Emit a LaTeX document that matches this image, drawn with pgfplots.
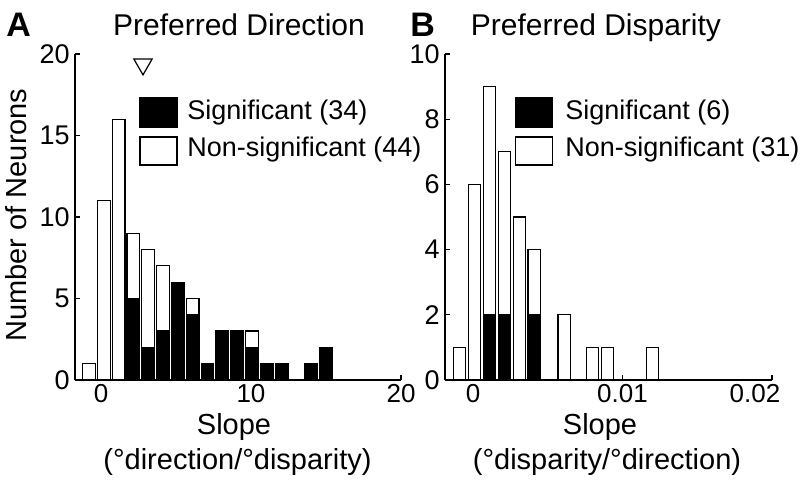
\documentclass[border=0pt]{standalone}
\usepackage{pgfplots}
\pgfplotsset{compat=1.18}
\usepackage{fontspec}
\setmainfont{Liberation Sans}
\begin{document}
\begin{tikzpicture}
\useasboundingbox (0,0) rectangle (402.5pt,241.5pt);
\pgfplotsset{
  myaxis/.style={
    anchor=south west, scale only axis,
    height=163pt, ymin=0,
    axis x line*=bottom, axis y line*=left,
    axis line style={line width=0.75pt},
    tick align=inside, major tick length=2.5pt,
    tick style={line width=0.6pt, black},
    tick label style={font=\fontsize{13.5}{15}\selectfont},
    xticklabel style={inner sep=0pt, yshift=-2pt, font=\fontsize{13}{15}\selectfont},
    yticklabel style={inner sep=2.5pt},
    scaled x ticks=false, scaled y ticks=false,
    clip=false,
  },
  tot/.style={ybar, bar shift=0pt, fill=white, draw=black, line width=0.6pt},
  sig/.style={ybar, bar shift=0pt, fill=black, draw=black, line width=0.6pt},
}
% Panel A
\begin{axis}[myaxis, at={(37.5pt,51.5pt)}, width=163pt,
  xmin=-1.733, xmax=20, ymax=20,
  xtick={0,10,20}, xticklabels={0,10,20},
  ytick={0,5,10,15,20}, yticklabels={0,5,10,15,20}]
\addplot[tot, bar width=0.85] coordinates {
(-0.80,1) (0.19,11) (1.18,16) (2.16,9) (3.15,8) (4.14,7) (5.13,6) (6.11,5)
(7.10,1) (8.09,3) (9.08,3) (10.06,3) (11.05,1) (12.04,1) (14.01,1) (15.00,2)};
\addplot[sig, bar width=0.85] coordinates {
(2.16,5) (3.15,2) (4.14,3) (5.13,6) (6.11,4) (7.10,1) (8.09,3) (9.08,3)
(10.06,2) (11.05,1) (12.04,1) (14.01,1) (15.00,2)};
\addplot[only marks, mark=triangle, mark size=5.3pt,
  mark options={rotate=180, line width=0.6pt, fill=white, draw=black}]
  coordinates {(2.8,19.37)};
\end{axis}
% Panel B
\begin{axis}[myaxis, at={(222.5pt,51.5pt)}, width=163.5pt,
  xmin=-0.001873, xmax=0.02, ymax=10,
  xtick={0,0.01,0.02}, xticklabels={0,0.01,{\hspace*{-17pt}0.02}},
  ytick={0,2,4,6,8,10}, yticklabels={0,2,4,6,8,10}]
\addplot[tot, bar width=0.00083] coordinates {
(-0.0009,1) (0.0001,6) (0.0011,9) (0.0021,7) (0.0031,5) (0.0041,4)
(0.0061,2) (0.0080,1) (0.0090,1) (0.0120,1)};
\addplot[sig, bar width=0.00083] coordinates {
(0.0011,2) (0.0021,2) (0.0041,2)};
\end{axis}
% Legends
\draw[fill=black, line width=0.6pt] (70pt,178pt) rectangle (88.5pt,192.5pt);
\draw[fill=white, line width=0.6pt] (70pt,159pt) rectangle (88.5pt,173pt);
\node[anchor=base west, inner sep=0pt, font=\fontsize{13.5}{15}\selectfont] at (93.5pt,181.5pt) {Significant (34)};
\node[anchor=base west, inner sep=0pt, font=\fontsize{13.5}{15}\selectfont] at (93.5pt,163.2pt) {Non-significant (44)};
\draw[fill=black, line width=0.6pt] (257.8pt,178pt) rectangle (276.2pt,192.5pt);
\draw[fill=white, line width=0.6pt] (257.8pt,159pt) rectangle (276.2pt,173pt);
\node[anchor=base west, inner sep=0pt, font=\fontsize{13.5}{15}\selectfont] at (282.5pt,181.5pt) {Significant (6)};
\node[anchor=base west, inner sep=0pt, font=\fontsize{13.5}{15}\selectfont] at (282.5pt,163.2pt) {Non-significant (31)};
% Titles and labels
\node[anchor=base west, inner sep=0pt, font=\fontsize{17}{19}\selectfont\bfseries] at (3pt,223pt) {A};
\node[anchor=base west, inner sep=0pt, font=\fontsize{17}{19}\selectfont\bfseries] at (205pt,223pt) {B};
\node[anchor=base, inner sep=0pt, font=\fontsize{15}{17}\selectfont] at (119.5pt,223.5pt) {Preferred Direction};
\node[anchor=base, inner sep=0pt, font=\fontsize{15}{17}\selectfont] at (298pt,223.5pt) {Preferred Disparity};
\node[anchor=base, rotate=90, inner sep=0pt, font=\fontsize{14.5}{16}\selectfont] at (13pt,134pt) {Number of Neurons};
\node[anchor=base, inner sep=0pt, font=\fontsize{14.5}{16}\selectfont] at (117pt,24pt) {Slope};
\node[anchor=base, inner sep=0pt, font=\fontsize{14.5}{16}\selectfont] at (118.75pt,6.5pt) {(°direction/°disparity)};
\node[anchor=base, inner sep=0pt, font=\fontsize{14.5}{16}\selectfont] at (300pt,24pt) {Slope};
\node[anchor=base, inner sep=0pt, font=\fontsize{14.5}{16}\selectfont] at (303.5pt,6.5pt) {(°disparity/°direction)};
\end{tikzpicture}
\end{document}
